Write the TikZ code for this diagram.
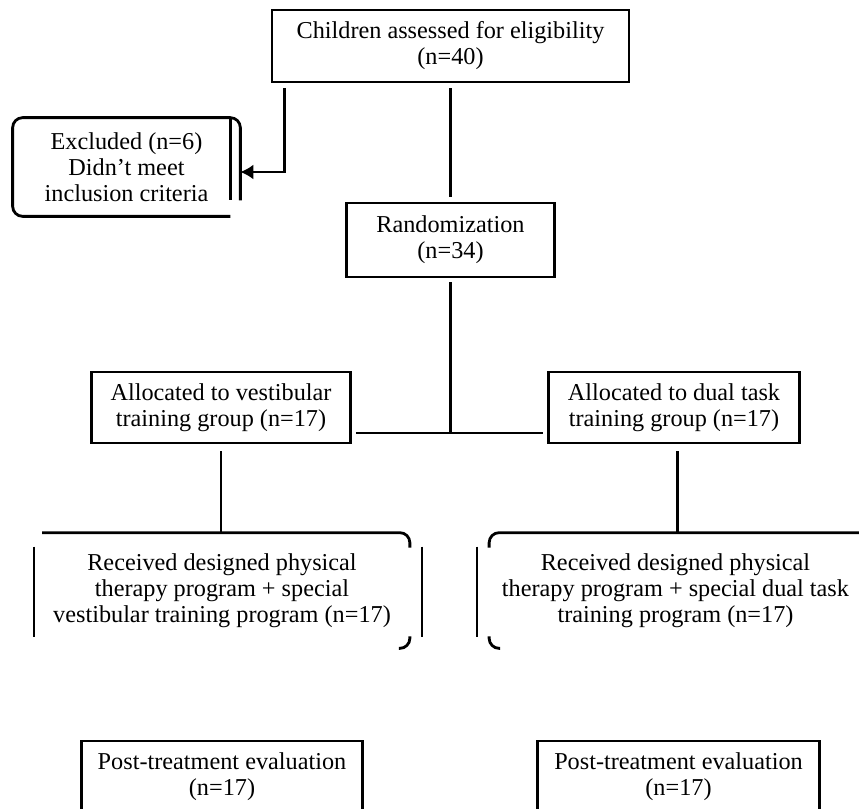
\documentclass[tikz,border=0pt]{standalone}
\usepackage{fontspec}
\setmainfont{Liberation Serif}
\usetikzlibrary{arrows,arrows.meta}
\newcommand{\boxfont}{\fontsize{13.8}{14.8}\selectfont}
\tikzstyle{plainbox} = [rectangle, draw=black, line width=1.6pt, inner sep=0pt, align=center, font=\boxfont]
\tikzstyle{openbox} = [rectangle, inner sep=0pt, align=center, font=\boxfont]
\tikzstyle{bracketline} = [line width=1.6pt, rounded corners=0.2cm]
\tikzstyle{link} = [line width=1.3pt]
\tikzstyle{arrow} = [line width=1.3pt,-{Latex[length=0.26cm,width=0.3cm]}]

\begin{document}
\begin{tikzpicture}
\useasboundingbox (-9.01,0.92) rectangle (8.17,-15.24);
\node (assess) [plainbox, minimum width=7.14cm, minimum height=1.44cm] {Children assessed for eligibility\\(n=40)};
\node (excl) [openbox, below of=assess, xshift=-6.48cm, yshift=-1.42cm, minimum width=4.54cm, minimum height=1.96cm] {Excluded (n=6)\\Didn't meet\\inclusion criteria};
\node (rand) [plainbox, below of=assess, yshift=-2.88cm, minimum width=4.16cm, minimum height=1.48cm] {Randomization\\(n=34)};
\node (allocL) [plainbox, below of=rand, xshift=-4.59cm, yshift=-2.35cm, minimum width=5.18cm, minimum height=1.42cm] {Allocated to vestibular\\training group (n=17)};
\node (allocR) [plainbox, below of=rand, xshift=4.47cm, yshift=-2.35cm, minimum width=5.02cm, minimum height=1.42cm] {Allocated to dual task\\training group (n=17)};
\node (recvL) [openbox, below of=allocL, xshift=0.02cm, yshift=-2.66cm, minimum width=7.5cm, minimum height=2.3cm] {Received designed physical\\therapy program + special\\vestibular training program (n=17)};
\node (recvR) [openbox, below of=allocR, xshift=0.03cm, yshift=-2.66cm, minimum width=7.44cm, minimum height=2.3cm] {Received designed physical\\therapy program + special dual task\\training program (n=17)};
\node (postL) [plainbox, below of=recvL, yshift=-2.73cm, minimum width=5.62cm, minimum height=1.44cm] {Post-treatment evaluation\\(n=17)};
\node (postR) [plainbox, below of=recvR, xshift=0.06cm, yshift=-2.73cm, minimum width=5.64cm, minimum height=1.44cm] {Post-treatment evaluation\\(n=17)};

% broken frames round the open boxes
\draw [bracketline] ([yshift=0.32cm]excl.south east) -- (excl.north east) -- (excl.north west) -- (excl.south west) -- ([xshift=-0.2cm]excl.south east);
\draw [bracketline] ([xshift=-0.2cm]excl.north east) -- ([xshift=-0.2cm,yshift=0.32cm]excl.south east);
\draw [bracketline] ([xshift=0.16cm]recvL.north west) -- (recvL.north east) -- ([yshift=-0.3cm]recvL.north east);
\draw [bracketline] ([yshift=0.24cm]recvL.south east) -- (recvL.south east) -- ([xshift=-0.22cm]recvL.south east);
\draw [link] ([yshift=-0.28cm]recvL.north west) -- ([yshift=0.22cm]recvL.south west);
\draw [link] ([xshift=0.24cm,yshift=-0.28cm]recvL.north east) -- ([xshift=0.24cm,yshift=0.22cm]recvL.south east);
\draw [bracketline] ([yshift=-0.3cm]recvR.north west) -- (recvR.north west) -- (recvR.north east);
\draw [bracketline] ([yshift=0.24cm]recvR.south west) -- (recvR.south west) -- ([xshift=0.22cm]recvR.south west);
\draw [link] ([xshift=-0.24cm,yshift=-0.28cm]recvR.north west) -- ([xshift=-0.24cm,yshift=0.22cm]recvR.south west);

% connectors
\draw [arrow] ([xshift=0.28cm,yshift=-0.1cm]assess.south west) |- ([yshift=-0.1cm]excl.east);
\draw [link] ([yshift=-0.1cm]assess.south) -- ([yshift=0.1cm]rand.north);
\coordinate (split) at ([yshift=-0.51cm]allocL.east);
\draw [link] ([yshift=-0.08cm]rand.south) -- (rand.south |- split);
\draw [link] ([xshift=0.08cm]split) -- ([xshift=-0.08cm]split -| allocR.west);
\draw [link] ([yshift=-0.14cm]allocL.south) -- (allocL.south |- recvL.north);
\draw [link] ([xshift=0.07cm,yshift=-0.14cm]allocR.south) -- ([xshift=0.07cm]allocR.south |- recvR.north);
\end{tikzpicture}
\end{document}
